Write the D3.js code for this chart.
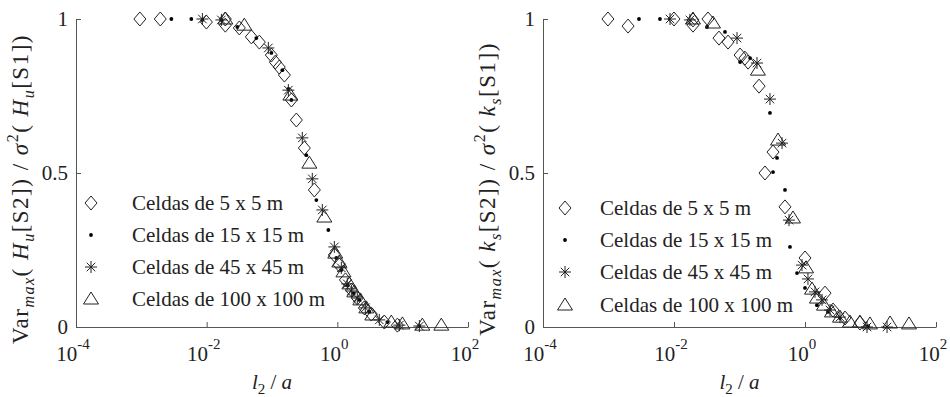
<!DOCTYPE html>
<html><head><meta charset="utf-8">
<script src="https://cdn.jsdelivr.net/npm/d3@7"></script>
<style>body{margin:0;background:#fff} svg{display:block}</style>
</head><body><svg id="c" width="950" height="397"></svg>
<script>
// ---------- data ----------
const legendLabels = ["Celdas de 5 x 5 m", "Celdas de 15 x 15 m", "Celdas de 45 x 45 m", "Celdas de 100 x 100 m"];
const xTicks = [1e-4, 1e-2, 1, 1e2];
const xTickExponents = ["-4", "-2", "0", "2"];
const yTicks = [0, 0.5, 1];
const yTickLabels = ["0", "0.5", "1"];

// Left panel: H_u
const huDiamondX = [0.00095, 0.00195, 0.0099, 0.0193, 0.0193, 0.0316, 0.0483, 0.064, 0.0977, 0.1125, 0.129, 0.155, 0.198, 0.236, 0.313, 0.445, 0.90, 1.07, 1.33, 1.64, 2.02, 2.59, 3.31, 5.24, 8.3];
const huDiamondY = [1.0, 1.0, 0.99, 1.0, 0.98, 0.971, 0.942, 0.925, 0.883, 0.86, 0.844, 0.818, 0.737, 0.672, 0.581, 0.445, 0.234, 0.201, 0.153, 0.12, 0.094, 0.062, 0.042, 0.016, 0.006];
const huDotX = [0.00288, 0.00582, 0.0086, 0.0168, 0.0295, 0.0576, 0.0977, 0.144, 0.178, 0.198, 0.335, 0.477, 0.728, 0.966, 1.15, 1.42, 1.76, 2.17, 3.09, 5.82, 18.0];
const huDotY = [1.0, 1.0, 0.997, 0.997, 0.974, 0.938, 0.89, 0.834, 0.773, 0.737, 0.558, 0.412, 0.315, 0.224, 0.185, 0.136, 0.11, 0.088, 0.049, 0.016, 0.003];
const huStarX = [0.0086, 0.0168, 0.0879, 0.178, 0.291, 0.414, 0.589, 0.90, 1.15, 1.42, 1.64, 2.02, 2.68, 4.39, 8.9, 18.0];
const huStarY = [1.0, 0.997, 0.906, 0.769, 0.614, 0.481, 0.38, 0.26, 0.192, 0.14, 0.117, 0.094, 0.062, 0.023, 0.006, 0.003];
const huTriX = [0.0193, 0.0377, 0.191, 0.373, 0.632, 0.93, 1.07, 1.24, 1.53, 1.82, 2.25, 2.78, 3.43, 6.7, 9.9, 20, 39];
const huTriY = [1.0, 0.98, 0.753, 0.532, 0.357, 0.24, 0.211, 0.179, 0.14, 0.114, 0.088, 0.062, 0.039, 0.016, 0.01, 0.006, 0.006];

// Right panel: k_s
const ksDiamondX = [0.00098, 0.00199, 0.01, 0.0195, 0.0195, 0.033, 0.0486, 0.0668, 0.102, 0.121, 0.135, 0.199, 0.325, 0.245, 0.495, 1.0, 2.02, 2.68, 4.08, 6.9];
const ksDiamondY = [1.0, 0.977, 1.0, 0.997, 0.98, 1.0, 0.938, 0.925, 0.883, 0.873, 0.86, 0.782, 0.568, 0.5, 0.39, 0.224, 0.11, 0.055, 0.029, 0.013];
const ksDotX = [0.00292, 0.0061, 0.0319, 0.06, 0.102, 0.145, 0.292, 0.374, 0.325, 0.495, 0.59, 0.755, 1.0, 1.52, 2.24, 3.42, 9.2];
const ksDotY = [1.0, 1.0, 0.974, 0.958, 0.86, 0.873, 0.695, 0.549, 0.503, 0.445, 0.26, 0.175, 0.127, 0.071, 0.049, 0.029, 0.003];
const ksStarX = [0.0087, 0.0175, 0.0916, 0.185, 0.292, 0.446, 0.57, 0.90, 1.11, 1.42, 1.82, 2.41, 3.42, 8.85, 17.9];
const ksStarY = [1.0, 0.997, 0.938, 0.857, 0.74, 0.597, 0.347, 0.201, 0.156, 0.114, 0.088, 0.055, 0.032, 0.0, 0.0];
const ksTriX = [0.0195, 0.0394, 0.191, 0.387, 0.656, 1.04, 1.28, 1.52, 1.95, 2.58, 3.42, 4.86, 6.9, 9.8, 19.9, 38.7];
const ksTriY = [1.0, 0.987, 0.834, 0.607, 0.354, 0.192, 0.123, 0.094, 0.071, 0.049, 0.032, 0.016, 0.016, 0.01, 0.013, 0.01];

// ---------- drawing ----------
const svg = d3.select("#c");
const FONT = "Liberation Serif";
const FS = 21;
const INK = "#222";
const AXIS = "#555";

function drawMarker(g, type, x, y) {
  if (type === "diamond") {
    g.append("path").attr("d", "M0,-7L6,0L0,7L-6,0Z")
      .attr("transform", `translate(${x},${y})`)
      .attr("fill", "none").attr("stroke", INK).attr("stroke-width", 1);
  } else if (type === "dot") {
    g.append("circle").attr("cx", x).attr("cy", y).attr("r", 1.9).attr("fill", "#000");
  } else if (type === "star") {
    const r = 6, d = r * 0.7071;
    g.append("path").attr("d", `M${-r},0L${r},0M0,${-r}L0,${r}M${-d},${-d}L${d},${d}M${-d},${d}L${d},${-d}`)
      .attr("transform", `translate(${x},${y})`)
      .attr("fill", "none").attr("stroke", INK).attr("stroke-width", 1);
  } else if (type === "tri") {
    g.append("path").attr("d", "M0,-7L7.5,5L-7.5,5Z")
      .attr("transform", `translate(${x},${y})`)
      .attr("fill", "none").attr("stroke", INK).attr("stroke-width", 1);
  }
}

function panel(cfg) {
  const x = d3.scaleLog().domain([1e-4, 1e2]).range([cfg.x0, cfg.x1]);
  const y = d3.scaleLinear().domain([0, 1]).range([327, 19]);
  const g = svg.append("g");

  const ax = g.append("g").attr("transform", "translate(0,327)")
    .call(d3.axisBottom(x).tickValues(xTicks).tickSizeInner(-5).tickSizeOuter(0).tickFormat(""));
  const ay = g.append("g").attr("transform", `translate(${cfg.x0},0)`)
    .call(d3.axisLeft(y).tickValues(yTicks).tickSizeInner(-5).tickSizeOuter(0).tickFormat(""));
  [ax, ay].forEach(a => a.selectAll("path,line").attr("stroke", AXIS).attr("stroke-width", 1));

  xTicks.forEach((v, i) => {
    const t = g.append("text").attr("x", x(v) - 3).attr("y", 361)
      .attr("text-anchor", "middle").attr("font-family", FONT).attr("font-size", FS).attr("fill", INK);
    t.append("tspan").text("10");
    t.append("tspan").attr("dy", -12).attr("font-size", 15).text(xTickExponents[i]);
  });
  yTicks.forEach((v, i) => {
    g.append("text").attr("x", cfg.x0 - 8).attr("y", y(v)).attr("dy", "0.35em")
      .attr("text-anchor", "end").attr("font-family", FONT).attr("font-size", FS).attr("fill", INK)
      .text(yTickLabels[i]);
  });

  const xl = g.append("text").attr("x", (cfg.x0 + cfg.x1) / 2).attr("y", 389)
    .attr("text-anchor", "middle").attr("font-family", FONT).attr("font-size", FS).attr("fill", INK);
  xl.append("tspan").attr("font-style", "italic").text("l");
  xl.append("tspan").attr("dy", 5).attr("font-size", 15).text("2");
  xl.append("tspan").attr("dy", -5).text(" / ");
  xl.append("tspan").attr("font-style", "italic").text("a");

  const yl = g.append("text").attr("transform", `translate(${cfg.ylx},189) rotate(-90)`)
    .attr("text-anchor", "middle").attr("font-family", FONT).attr("font-size", 23).attr("fill", INK);
  const parts = [
    ["Var", 0, ""], ["max", 6, "si"], ["( ", -6, ""], [cfg.v, 0, "i"], [cfg.s, 6, "si"],
    ["[S2]) / ", -6, ""], ["σ", 0, "i"], ["2", -10, "s"], ["( ", 10, ""], [cfg.v, 0, "i"], [cfg.s, 6, "si"], ["[S1])", -6, ""]
  ];
  parts.forEach(p => {
    const ts = yl.append("tspan").attr("dy", p[1]).text(p[0]);
    if (p[2].includes("s")) ts.attr("font-size", 16);
    if (p[2].includes("i")) ts.attr("font-style", "italic");
  });
  // stretch slightly to the reference label length
  const len = yl.node().getComputedTextLength();
  const nChars = parts.reduce((s, p) => s + p[0].length, 0);
  if (len < cfg.ylLen) yl.attr("letter-spacing", Math.min(1.5, (cfg.ylLen - len) / nChars));

  const dg = g.append("g");
  const series = [["diamond", cfg.d], ["dot", cfg.o], ["star", cfg.st], ["tri", cfg.t]];
  series.forEach(([type, [xs, ys]]) => {
    xs.forEach((xv, i) => drawMarker(dg, type, x(xv), y(ys[i])));
  });

  ["diamond", "dot", "star", "tri"].forEach((type, i) => {
    const ly = cfg.legY[i];
    drawMarker(g, type, cfg.legMx, ly);
    g.append("text").attr("x", cfg.legTx).attr("y", ly).attr("dy", "0.35em")
      .attr("font-family", FONT).attr("font-size", FS).attr("fill", INK).text(legendLabels[i]);
  });
}

panel({ x0: 76, x1: 468, ylx: 28, ylLen: 322, v: "H", s: "u",
  d: [huDiamondX, huDiamondY], o: [huDotX, huDotY], st: [huStarX, huStarY], t: [huTriX, huTriY],
  legY: [203, 235, 267, 299], legMx: 91, legTx: 132 });
panel({ x0: 543, x1: 936, ylx: 495, ylLen: 322, v: "k", s: "s",
  d: [ksDiamondX, ksDiamondY], o: [ksDotX, ksDotY], st: [ksStarX, ksStarY], t: [ksTriX, ksTriY],
  legY: [208, 240, 272, 305], legMx: 565, legTx: 600 });
</script></body></html>
